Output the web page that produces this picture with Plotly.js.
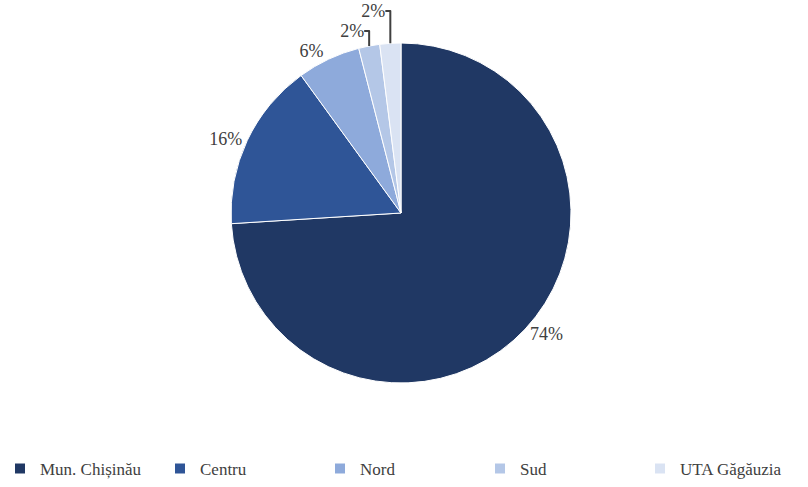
<!DOCTYPE html>
<html>
<head>
<meta charset="utf-8">
<script src="https://cdn.plot.ly/plotly-3.0.1.min.js"></script>
<style>html,body{margin:0;padding:0;background:#fff;}#chart{width:808px;height:487px;}</style>
</head>
<body>
<div id="chart"></div>
<script>
var regions = ["Mun. Chișinău", "Centru", "Nord", "Sud", "UTA Găgăuzia"];
var shares = [74, 16, 6, 2, 2];
var colors = ["#203864", "#2f5597", "#8eaadb", "#b4c7e7", "#dae3f3"];

var serif = "Liberation Serif";

var trace = {
  type: "pie",
  labels: regions,
  values: shares,
  sort: false,
  direction: "clockwise",
  rotation: 0,
  marker: {colors: colors, line: {color: "#ffffff", width: 1}},
  textinfo: "percent",
  texttemplate: "%{percent:.0%}",
  textposition: "outside",
  outsidetextfont: {family: serif, size: 18, color: "#404040"},
  hoverinfo: "label+percent",
  automargin: false
};

var layout = {
  width: 808, height: 487,
  font: {family: serif, size: 17, color: "#404040"},
  margin: {l: 0, r: 6, t: 43, b: 100},
  paper_bgcolor: "#ffffff",
  showlegend: true,
  legend: {
    orientation: "h",
    x: 0.0, xanchor: "left",
    y: -0.2, yanchor: "top",
    entrywidth: 115, entrywidthmode: "pixels",
    itemsizing: "constant",
    font: {family: serif, size: 17, color: "#404040"}
  }
};
Plotly.newPlot("chart", [trace], layout, {displayModeBar: false, staticPlot: true});
</script>
</body>
</html>
